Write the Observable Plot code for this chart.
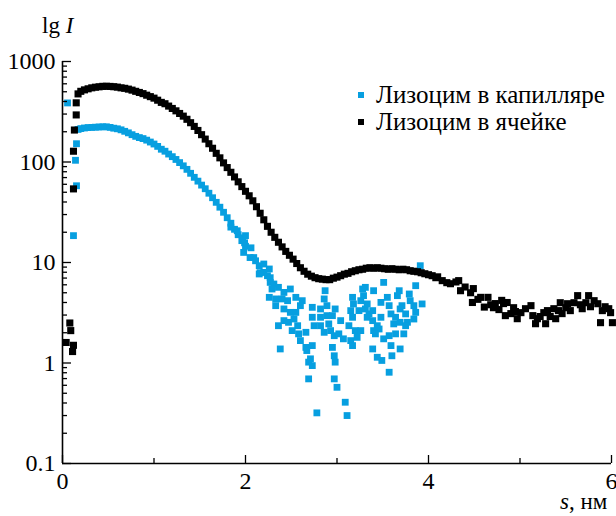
<!DOCTYPE html>
<html>
<head>
<meta charset="utf-8">
<script src="https://cdn.jsdelivr.net/npm/d3@7"></script>
<script src="https://cdn.jsdelivr.net/npm/@observablehq/plot@0.6"></script>
<style>
  html, body { margin: 0; padding: 0; background: #fff; }
  #chart { width: 616px; height: 516px; }
  #chart svg, #chart svg text, #chart svg tspan { font-family: 'Liberation Serif', serif !important; }
</style>
</head>
<body>
<div id="chart"></div>
<script>
// ---- Series names ----
const seriesNames = ["Лизоцим в капилляре", "Лизоцим в ячейке"];
const seriesColors = ["#079fe0", "#000000"];

// ---- Лизоцим в капилляре: [s, I] ----
const capStart = [[0.055, 387], [0.12, 18.5], [0.142, 104], [0.153, 58], [0.153, 152]];
const capSmooth = [
  [0.17, 211], [0.20, 215], [0.24, 218], [0.28, 220], [0.32, 221], [0.36, 222], [0.40, 223],
  [0.44, 224], [0.48, 224], [0.52, 221], [0.56, 217], [0.60, 214], [0.64, 209], [0.68, 202],
  [0.72, 195], [0.76, 187], [0.80, 180], [0.84, 175], [0.88, 171], [0.92, 165], [0.96, 158],
  [1.00, 151], [1.04, 143], [1.08, 134], [1.12, 128], [1.16, 120], [1.20, 113], [1.24, 106],
  [1.28, 98.6], [1.32, 91.6], [1.36, 84.5], [1.40, 77.2], [1.44, 70.4], [1.48, 64.5],
  [1.52, 58.9], [1.56, 54.2], [1.60, 48.9], [1.64, 44.1], [1.68, 39.7], [1.72, 35.5],
  [1.76, 31.6], [1.80, 27.9], [1.84, 24.6], [1.88, 21.4], [1.92, 18.9], [1.96, 16.5], [2.00, 14.5],
  [1.84, 22.5], [1.91, 20.7], [1.97, 17.6], [2.00, 18.5], [1.99, 15.7], [1.98, 12.6]
];
const capScatter = [
  [2.05, 11.2], [2.06, 14.0], [2.09, 11.2], [2.11, 10.4], [2.15, 9.29], [2.20, 9.66], [2.26, 8.62],
  [2.20, 7.97], [2.15, 7.69], [2.16, 7.92], [2.24, 7.39], [2.27, 7.06], [2.27, 6.34], [2.31, 6.11],
  [2.29, 5.45], [2.36, 5.66], [2.42, 5.04], [2.49, 5.45], [2.26, 4.50], [2.33, 4.34], [2.40, 4.34],
  [2.46, 4.17], [2.55, 4.50], [2.62, 4.17], [2.33, 3.72], [2.42, 3.45], [2.49, 3.19], [2.55, 3.19],
  [2.60, 3.72], [2.73, 3.58], [2.82, 3.45], [2.87, 5.24], [2.86, 4.34], [2.89, 3.72], [2.82, 2.85],
  [2.89, 2.96], [2.95, 2.96], [2.98, 3.45], [3.04, 2.64], [2.42, 2.64], [2.47, 2.54], [2.36, 2.35],
  [2.53, 2.74], [2.57, 2.35], [2.51, 2.10], [2.58, 1.95], [2.66, 2.02], [2.73, 2.85], [2.75, 2.35],
  [2.82, 2.35], [2.86, 2.02], [2.91, 2.45], [2.93, 2.10], [2.97, 1.87], [3.02, 1.95], [3.07, 1.74],
  [3.13, 2.35], [3.15, 1.67], [3.17, 1.49], [3.20, 2.10], [3.22, 1.80], [3.26, 2.10], [2.38, 1.38],
  [2.60, 1.67], [2.66, 1.43], [2.73, 1.49], [2.67, 1.33], [2.71, 1.10], [2.69, 1.02], [2.73, 0.942],
  [2.95, 1.43], [2.97, 1.18], [2.98, 1.02], [2.69, 0.695], [2.97, 0.695], [3.00, 0.573],
  [3.09, 0.407], [2.78, 0.319], [3.11, 0.300],
  [3.17, 4.50], [3.15, 3.32], [3.17, 2.85], [3.18, 3.87], [3.26, 4.17], [3.28, 5.45], [3.31, 5.66],
  [3.29, 4.68], [3.24, 3.32], [3.31, 3.45], [3.33, 3.87], [3.35, 3.08], [3.39, 3.32], [3.33, 2.85],
  [3.39, 2.64], [3.40, 5.24], [3.44, 2.35], [3.48, 2.85], [3.40, 2.10], [3.46, 2.18], [3.42, 1.95],
  [3.51, 1.74], [3.57, 1.87], [3.51, 6.34], [3.48, 4.01], [3.55, 4.50], [3.57, 3.72], [3.59, 3.08],
  [3.62, 2.45], [3.66, 4.68], [3.68, 5.24], [3.69, 3.45], [3.71, 3.72], [3.64, 2.85], [3.69, 2.54],
  [3.75, 3.08], [3.77, 2.54], [3.79, 4.86], [3.80, 4.17], [3.86, 5.88], [3.84, 3.72], [3.86, 3.19],
  [3.93, 3.87], [3.84, 2.74], [3.75, 2.35], [3.64, 1.95], [3.73, 1.95], [3.39, 1.38], [3.44, 1.14],
  [3.49, 1.06], [3.59, 1.49], [3.69, 1.38], [3.60, 1.18], [3.57, 0.809], [3.91, 9.29]
];

// ---- Лизоцим в ячейке: [s, I] ----
const cellStart = [
  [0.04, 1.6], [0.08, 2.5], [0.09, 2.1], [0.11, 1.3], [0.12, 1.5],
  [0.12, 54], [0.12, 128], [0.13, 208], [0.15, 294], [0.15, 388]
];
const cellSmooth = [
  [0.17, 476], [0.20, 505], [0.24, 522], [0.28, 535], [0.32, 547], [0.36, 555], [0.40, 560],
  [0.44, 566], [0.48, 567], [0.52, 565], [0.56, 561], [0.60, 556], [0.64, 547], [0.68, 541],
  [0.72, 531], [0.76, 519], [0.80, 505], [0.84, 492], [0.88, 479], [0.92, 462], [0.96, 447],
  [1.00, 432], [1.04, 412], [1.08, 392], [1.12, 380], [1.16, 360], [1.20, 341], [1.24, 323],
  [1.28, 304], [1.32, 286], [1.36, 266], [1.40, 246], [1.44, 226], [1.48, 206], [1.52, 187],
  [1.56, 169], [1.60, 152], [1.64, 137], [1.68, 122], [1.72, 110], [1.76, 98], [1.80, 88],
  [1.84, 79], [1.88, 71], [1.92, 63.5], [1.96, 56.9], [2.00, 51.1], [2.04, 46.1], [2.08, 41.1],
  [2.12, 35.9], [2.16, 30.9], [2.20, 26.6], [2.24, 22.9], [2.28, 20.0], [2.32, 17.8], [2.36, 15.9],
  [2.40, 14.3], [2.44, 12.9], [2.48, 11.8], [2.52, 10.8], [2.56, 9.77], [2.60, 8.87], [2.64, 8.18],
  [2.68, 7.65], [2.72, 7.31], [2.76, 7.06], [2.80, 6.90], [2.84, 6.83], [2.88, 6.75], [2.92, 6.75],
  [2.96, 6.98], [3.00, 7.15], [3.04, 7.39], [3.08, 7.65], [3.12, 7.80], [3.16, 8.09], [3.20, 8.28],
  [3.24, 8.47], [3.28, 8.57], [3.32, 8.77], [3.36, 8.87], [3.40, 8.77], [3.44, 8.87], [3.48, 8.77],
  [3.52, 8.67], [3.56, 8.57], [3.60, 8.67], [3.64, 8.57], [3.68, 8.47], [3.72, 8.57], [3.76, 8.47],
  [3.80, 8.28], [3.84, 8.18], [3.88, 8.09], [3.92, 7.91], [3.96, 7.73], [4.00, 7.56], [4.04, 7.39],
  [4.08, 7.06]
];
const cellTail = [
  [4.10, 7.2], [4.15, 6.6], [4.20, 6.3], [4.24, 6.15], [4.30, 6.4], [4.33, 6.6], [4.35, 5.24],
  [4.40, 5.7], [4.46, 5.0], [4.49, 5.5], [4.48, 4.0], [4.54, 4.3], [4.57, 4.5], [4.61, 3.6],
  [4.65, 4.5], [4.68, 3.8], [4.71, 3.55], [4.73, 3.9], [4.77, 3.4], [4.80, 4.2], [4.82, 3.9],
  [4.84, 2.96], [4.86, 4.0], [4.90, 3.1], [4.93, 3.55], [4.95, 3.25], [4.97, 2.76], [5.01, 3.17],
  [5.06, 3.47], [5.12, 3.72], [5.14, 2.96], [5.17, 2.46], [5.19, 2.76], [5.22, 2.9], [5.26, 3.17],
  [5.28, 2.46], [5.30, 3.32], [5.33, 2.9], [5.37, 3.47], [5.39, 2.76], [5.42, 3.32], [5.44, 3.98],
  [5.46, 3.1], [5.50, 3.55], [5.52, 3.89], [5.55, 3.32], [5.59, 3.98], [5.63, 4.68], [5.66, 3.8],
  [5.68, 3.47], [5.72, 3.98], [5.75, 4.68], [5.77, 3.63], [5.81, 4.17], [5.85, 3.89], [5.88, 2.52],
  [5.90, 3.32], [5.93, 3.63], [5.97, 3.47], [5.99, 3.17], [6.01, 2.52]
];

// ---- Axis ticks ----
const xTicks = [0, 2, 4, 6];
const xMinorTicks = [1, 3, 5];
const yTicks = [0.1, 1, 10, 100, 1000];
const yTickLabels = ["0.1", "1", "10", "100", "1000"];
const yMinorTicks = [0.2,0.3,0.4,0.5,0.6,0.7,0.8,0.9, 2,3,4,5,6,7,8,9, 20,30,40,50,60,70,80,90, 200,300,400,500,600,700,800,900];
const yTitle = ["lg ", "I"];
const xTitle = ["s", ", нм"];

const toRows = arr => arr.map(([s, I]) => ({s, I}));
const cap = toRows([...capStart, ...capSmooth, ...capScatter]);
const cell = toRows([...cellStart, ...cellSmooth, ...cellTail]);

const FONT = "Liberation Serif, serif";

const plot = Plot.plot({
  width: 616,
  height: 516,
  marginLeft: 62,
  marginRight: 5,
  marginTop: 61,
  marginBottom: 53,
  style: { fontFamily: FONT, fontSize: "22px", color: "#000", background: "#fff", overflow: "visible" },
  x: { domain: [0, 6] },
  y: { type: "log", domain: [0.1, 1000] },
  marks: [
    Plot.dot(cap, { x: "s", y: "I", symbol: "square", r: 3.85, fill: seriesColors[0], stroke: "none" }),
    Plot.dot(cell, { x: "s", y: "I", symbol: "square", r: 4.0, fill: seriesColors[1], stroke: "none" }),
    Plot.ruleX([0], { y1: 0.1, y2: 1000, strokeWidth: 1.6, stroke: "#000" }),
    Plot.ruleY([0.1], { x1: 0, x2: 6, strokeWidth: 1.6, stroke: "#000" }),
    Plot.axisY({ ticks: yTicks, tickSize: -9, fill: "none", label: null, strokeWidth: 1.3 }),
    Plot.axisY({ ticks: yMinorTicks, tickSize: -5, fill: "none", label: null, strokeWidth: 1.3 }),
    Plot.text(yTicks, { x: 0, y: d => d, text: (d, i) => yTickLabels[i], dx: -7,
      textAnchor: "end", lineAnchor: "middle", fontSize: 24, fontFamily: FONT, fill: "#000" }),
    Plot.axisX({ ticks: xTicks, tickSize: -8, fill: "none", label: null, strokeWidth: 1.3 }),
    Plot.axisX({ ticks: xMinorTicks, tickSize: -5, fill: "none", label: null, strokeWidth: 1.3 }),
    Plot.text(xTicks, { x: d => d, y: 0.1, text: d => String(d), dy: 8,
      textAnchor: "middle", lineAnchor: "top", fontSize: 24, fontFamily: FONT, fill: "#000" })
  ]
});

const svg = d3.select(plot);
// y title
const yt = svg.append("text").attr("x", 42).attr("y", 33).attr("text-anchor", "start")
  .attr("font-family", FONT).attr("font-size", 23).attr("fill", "#000");
yt.append("tspan").text(yTitle[0]);
yt.append("tspan").attr("font-style", "italic").text(yTitle[1]);
// x title
const xt = svg.append("text").attr("x", 560).attr("y", 509).attr("text-anchor", "start")
  .attr("font-family", FONT).attr("font-size", 23).attr("fill", "#000");
xt.append("tspan").attr("font-style", "italic").text(xTitle[0]);
xt.append("tspan").text(xTitle[1]);
// legend
seriesNames.forEach((name, i) => {
  const cy = 95 + i * 27;
  svg.append("rect").attr("x", 358).attr("y", cy - 3).attr("width", 6).attr("height", 6)
    .attr("fill", seriesColors[i]);
  svg.append("text").attr("x", 376).attr("y", cy + 8).attr("text-anchor", "start")
    .attr("font-family", FONT).attr("font-size", 25).attr("fill", "#000").text(name);
});

document.getElementById("chart").appendChild(plot);
</script>
</body>
</html>
